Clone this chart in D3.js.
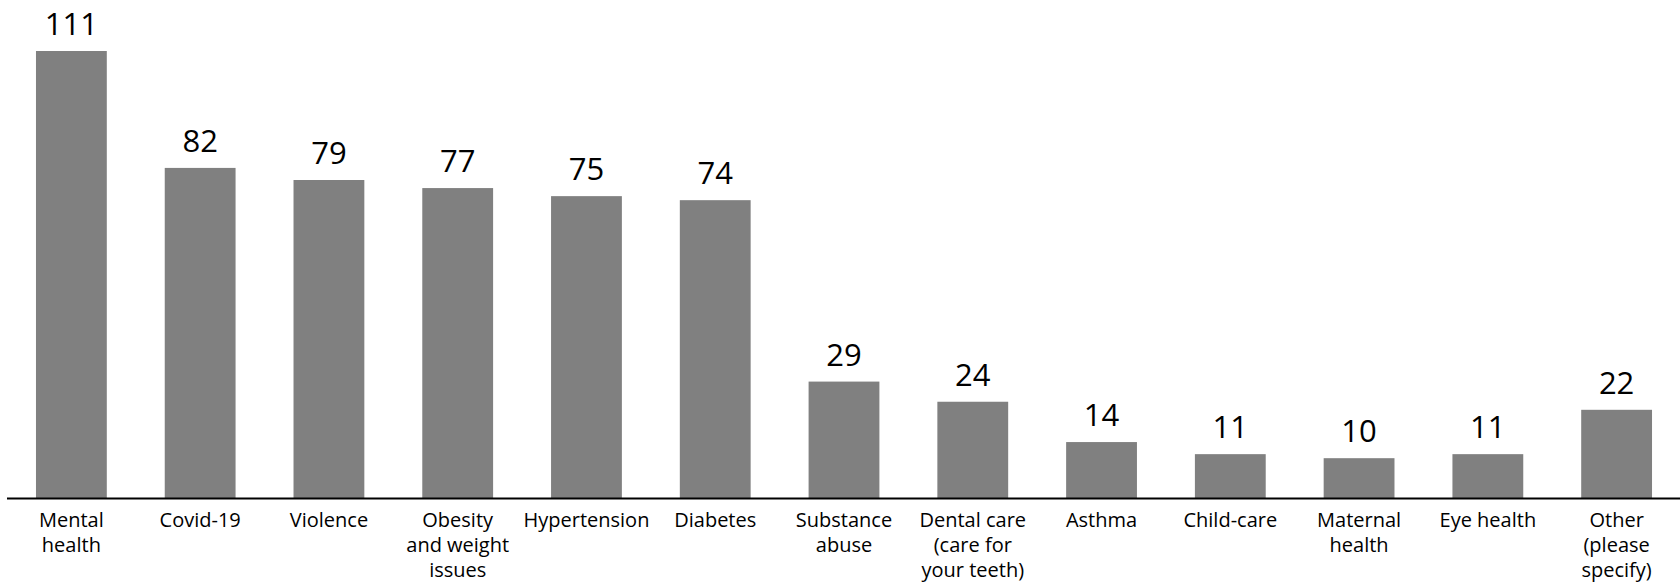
<!DOCTYPE html>
<html>
<head>
<meta charset="utf-8">
<script src="https://cdn.jsdelivr.net/npm/d3@7"></script>
<style>
  html, body { margin: 0; padding: 0; background: #fff; }
  svg { display: block; }
  text { font-family: "Open Sans", "Noto Sans", sans-serif; }
</style>
</head>
<body>
<div id="chart"></div>
<script>
// Health topics of concern, with response counts
const categories = [
  "Mental\nhealth",
  "Covid-19",
  "Violence",
  "Obesity\nand weight\nissues",
  "Hypertension",
  "Diabetes",
  "Substance\nabuse",
  "Dental care\n(care for\nyour teeth)",
  "Asthma",
  "Child-care",
  "Maternal\nhealth",
  "Eye health",
  "Other\n(please\nspecify)"
];
const counts = [111, 82, 79, 77, 75, 74, 29, 24, 14, 11, 10, 11, 22];

const width = 1680, height = 583;
const baseline = 498.5;

const svg = d3.select("#chart").append("svg")
  .attr("width", width)
  .attr("height", height);

const x = d3.scaleBand()
  .domain(categories)
  .range([7, 1681])
  .paddingInner(0.45)
  .paddingOuter(0.225);

const y = d3.scaleLinear()
  .domain([0, 111])
  .range([baseline, 51]);

// Bars
svg.append("g")
  .selectAll("rect")
  .data(counts)
  .join("rect")
  .attr("x", (d, i) => x(categories[i]))
  .attr("y", d => y(d))
  .attr("width", x.bandwidth())
  .attr("height", d => baseline - y(d))
  .attr("fill", "#808080");

// Value labels above bars
svg.append("g")
  .selectAll("text")
  .data(counts)
  .join("text")
  .attr("x", (d, i) => x(categories[i]) + x.bandwidth() / 2)
  .attr("y", d => y(d) - 16)
  .attr("text-anchor", "middle")
  .attr("font-size", 31)
  .attr("fill", "#000")
  .text(d => d);

// Category axis
const axis = svg.append("g")
  .attr("transform", `translate(0,${baseline})`)
  .call(d3.axisBottom(x).tickSize(0).tickPadding(0).tickFormat(""));

axis.select(".domain")
  .attr("d", `M7,0H${width}`)
  .attr("stroke", "#000")
  .attr("stroke-width", 2);

axis.selectAll(".tick").each(function(d) {
  const t = d3.select(this).append("text")
    .attr("text-anchor", "middle")
    .attr("font-size", 20)
    .attr("fill", "#000");
  d.split("\n").forEach((line, k) => {
    t.append("tspan")
      .attr("x", 0)
      .attr("y", 28 + k * 25)
      .text(line);
  });
});
</script>
</body>
</html>
